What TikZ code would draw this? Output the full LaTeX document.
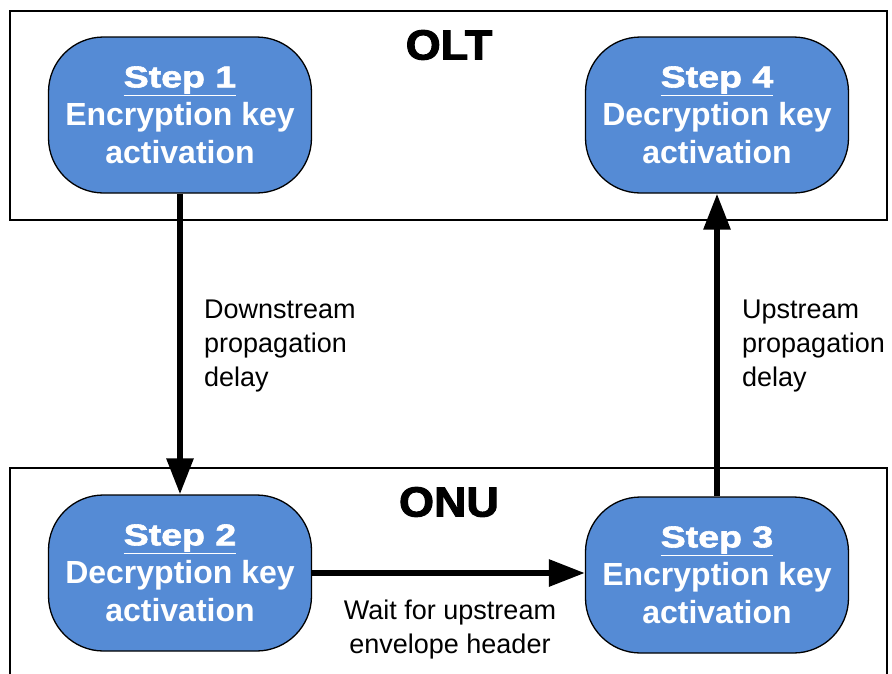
\documentclass[tikz,border=0pt]{standalone}
\usepackage{fontspec}
\setmainfont{Liberation Sans}
\newfontfamily\stepfont{Liberation Sans Bold}[FakeBold=2,FakeStretch=1.25]
\newfontfamily\titlefont{Liberation Sans Bold}[FakeBold=2.5,FakeStretch=1.07]
\usetikzlibrary{arrows.meta}
\definecolor{stepblue}{RGB}{85,139,213}
\begin{document}
\begin{tikzpicture}[x=1pt,y=-1pt,
  frame/.style={draw=black,line width=1.5pt},
  stepbox/.style={draw=black,line width=1.3pt,fill=stepblue,rounded corners=55pt,
    minimum width=263pt,minimum height=156pt,text=white,align=center,inner sep=0pt,
    font=\fontsize{32}{38}\selectfont\bfseries},
  conn/.style={line width=6pt,-{Triangle[length=36pt,width=26pt]}},
  lbl/.style={font=\fontsize{27}{34}\selectfont,align=left,inner sep=0pt},
  clbl/.style={font=\fontsize{27}{34}\selectfont,align=center,inner sep=0pt},
  title/.style={font=\fontsize{42}{44}\selectfont\titlefont,inner sep=0pt}
]
\useasboundingbox (0,0) rectangle (892,673);
\draw[frame] (10,11) rectangle (887,220);
\draw[frame] (10,468) rectangle (887,700);
\node[title] (olt) at (449,45) {OLT};
\node[title] (onu) at (449,502) {ONU};
\node[stepbox] (s1) at (180,115) {{\fontsize{30}{38}\selectfont\stepfont\underline{Step 1}}\\Encryption key\\activation};
\node[stepbox] (s4) at (717,115) {{\fontsize{30}{38}\selectfont\stepfont\underline{Step 4}}\\Decryption key\\activation};
\node[stepbox] (s2) at (180,573) {{\fontsize{30}{38}\selectfont\stepfont\underline{Step 2}}\\Decryption key\\activation};
\node[stepbox] (s3) at (717,575) {{\fontsize{30}{38}\selectfont\stepfont\underline{Step 3}}\\Encryption key\\activation};
\draw[conn] (s1.south) -- (s2.north);
\draw[conn] (s2.east |- s2.center) -- (s3.west |- s2.center);
\draw[conn] (s3.north) -- (s4.south);
\node[lbl,anchor=north west] (dl) at (204,300) {Downstream\\propagation\\delay};
\node[lbl,anchor=north west] (ul) at (742,300) {Upstream\\propagation\\delay};
\node[clbl,anchor=north] (wl) at (450,600) {Wait for upstream\\envelope header};
\end{tikzpicture}
\end{document}
